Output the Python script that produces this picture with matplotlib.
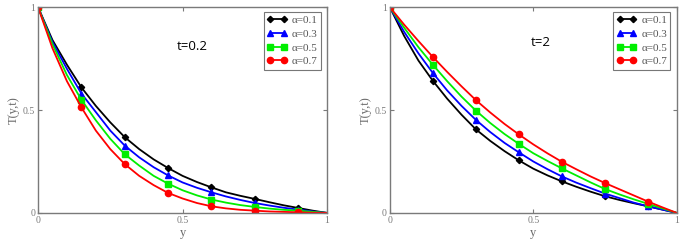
import numpy as np
import matplotlib
matplotlib.use("Agg")
import matplotlib.pyplot as plt

# y positions where curves were read (step 0.05)
y_pos = np.round(np.arange(0, 1.0001, 0.05), 2)
alphas = ["0.1", "0.3", "0.5", "0.7"]

# t = 0.2
t02_a01 = [1, 0.84, 0.72, 0.61, 0.52, 0.44, 0.368, 0.31, 0.26, 0.218, 0.18,
           0.15, 0.124, 0.10, 0.083, 0.068, 0.052, 0.037, 0.024, 0.011, 0]
t02_a03 = [1, 0.83, 0.70, 0.58, 0.49, 0.40, 0.327, 0.27, 0.222, 0.182, 0.148,
           0.122, 0.10, 0.08, 0.063, 0.048, 0.036, 0.025, 0.016, 0.007, 0]
t02_a05 = [1, 0.82, 0.67, 0.55, 0.45, 0.36, 0.285, 0.23, 0.18, 0.142, 0.11,
           0.085, 0.065, 0.05, 0.038, 0.029, 0.021, 0.015, 0.011, 0.005, 0]
t02_a07 = [1, 0.80, 0.64, 0.513, 0.40, 0.31, 0.237, 0.18, 0.135, 0.097, 0.07,
           0.048, 0.032, 0.022, 0.015, 0.011, 0.007, 0.005, 0.003, 0.001, 0]

# t = 2
t2_a01 = [1, 0.86, 0.74, 0.642, 0.555, 0.477, 0.406, 0.35, 0.30, 0.255, 0.215,
          0.182, 0.153, 0.127, 0.103, 0.081, 0.063, 0.047, 0.032, 0.016, 0]
t2_a03 = [1, 0.88, 0.775, 0.68, 0.595, 0.52, 0.452, 0.393, 0.34, 0.294, 0.25,
          0.212, 0.177, 0.147, 0.12, 0.094, 0.072, 0.05, 0.032, 0.016, 0]
t2_a05 = [1, 0.90, 0.805, 0.72, 0.64, 0.565, 0.497, 0.437, 0.383, 0.335, 0.29,
          0.252, 0.216, 0.182, 0.148, 0.116, 0.09, 0.066, 0.044, 0.022, 0]
t2_a07 = [1, 0.915, 0.835, 0.758, 0.685, 0.615, 0.548, 0.488, 0.432, 0.381, 0.333,
          0.289, 0.248, 0.212, 0.177, 0.145, 0.115, 0.085, 0.055, 0.027, 0]

colors = ["black", "#0000ff", "#00ee00", "#ff0000"]
markers = ["D", "^", "s", "o"]
msizes = [3.2, 4.5, 4.2, 4.5]
grey = "#7a7a7a"
serif = "Liberation Serif"

fig = plt.figure(figsize=(6.85, 2.45), dpi=100)
ax1 = fig.add_axes([0.0555, 0.131, 0.422, 0.840])
ax2 = fig.add_axes([0.569, 0.131, 0.419, 0.840])


def draw(ax, series, title, tx, ty):
    for vals, a, c, m, ms in zip(series, alphas, colors, markers, msizes):
        ax.plot(y_pos, vals, color=c, lw=1.3, marker=m, markersize=ms,
                markevery=range(0, 19, 3), label="\u03b1=" + a)
    ax.set_xlim(0, 1)
    ax.set_ylim(0, 1)
    ax.set_xticks([0, 0.5, 1])
    ax.set_yticks([0, 0.5, 1])
    ax.set_xticklabels(["0", "0.5", "1"])
    ax.set_yticklabels(["0", "0.5", "1"])
    ax.tick_params(direction="in", length=3, width=0.8, top=True, right=True,
                   colors=grey, labelsize=7, pad=2)
    for lab in ax.get_xticklabels() + ax.get_yticklabels():
        lab.set_fontfamily(serif)
    for sp in ax.spines.values():
        sp.set_color(grey)
        sp.set_linewidth(1)
    ax.set_xlabel("y", family=serif, fontsize=9, color="#6a6a6a", labelpad=2)
    ax.set_ylabel("T(y,t)", family=serif, fontsize=9, color="#6a6a6a", labelpad=2)
    ax.text(tx, ty, title, transform=ax.transAxes, fontsize=9.5,
            family="Open Sans", color="black")
    leg = ax.legend(loc="upper right", bbox_to_anchor=(0.978, 0.975),
                    prop={"family": serif, "size": 8}, frameon=True,
                    fancybox=False, numpoints=2, handlelength=1.8,
                    handletextpad=0.4, borderpad=0.3, labelspacing=0.35,
                    borderaxespad=0.0)
    leg.get_frame().set_edgecolor("#555555")
    leg.get_frame().set_linewidth(0.8)
    for t in leg.get_texts():
        t.set_color("#555555")


draw(ax1, [t02_a01, t02_a03, t02_a05, t02_a07], "t=0.2", 0.48, 0.79)
draw(ax2, [t2_a01, t2_a03, t2_a05, t2_a07], "t=2", 0.49, 0.81)

fig.savefig("out.png", dpi=100)
